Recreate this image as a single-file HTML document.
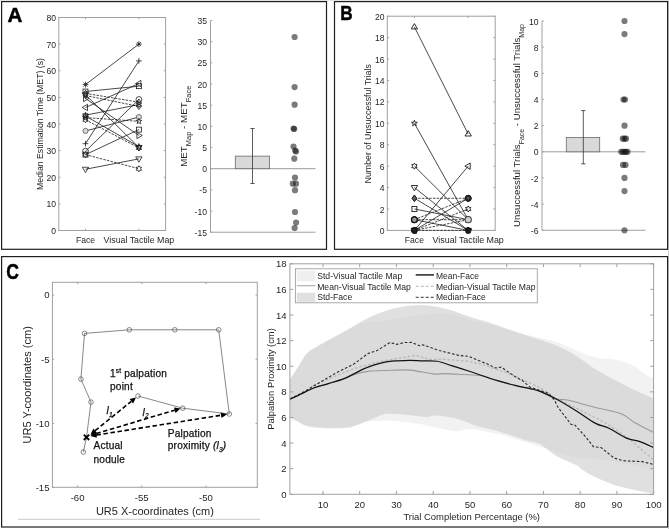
<!DOCTYPE html>
<html><head><meta charset="utf-8"><style>
html,body{margin:0;padding:0;background:#fff;}
svg{display:block;font-family:"Liberation Sans",sans-serif;filter:blur(0.3px);}
text{font-family:"Liberation Sans",sans-serif;}
</style></head><body>
<svg width="669" height="529" viewBox="0 0 669 529">
<rect width="669" height="529" fill="#fff"/>
<rect x="0" y="0" width="669" height="0.9" fill="#e2e2e2"/><rect x="668.2" y="0" width="0.8" height="529" fill="#c4c4c4"/>
<rect x="1.6" y="1.6" width="324.9" height="247.7" fill="none" stroke="#1e1e1e" stroke-width="1.2"/>
<rect x="334.5" y="1.6" width="333.1" height="247.7" fill="none" stroke="#1e1e1e" stroke-width="1.2"/>
<rect x="1.6" y="256.6" width="666" height="270.4" fill="none" stroke="#1e1e1e" stroke-width="1.2"/>
<text x="7.6" y="21.8" font-size="20.6" font-weight="bold" fill="#000" stroke="#000" stroke-width="0.5">A</text>
<text x="340.3" y="20.3" font-size="20.7" font-weight="bold" fill="#000" stroke="#000" stroke-width="0.5" transform="translate(340.2 20.5) scale(0.83 1) translate(-340.2 -20.5)">B</text>
<text x="6.4" y="279.1" font-size="22" font-weight="bold" fill="#000" stroke="#000" stroke-width="0.5" transform="translate(6.2 279.3) scale(0.8 1) translate(-6.2 -279.3)">C</text>
<rect x="58.8" y="17.5" width="106.8" height="213" fill="none" stroke="#a0a0a0" stroke-width="1"/>
<line x1="58.8" y1="230.5" x2="60.6" y2="230.5" stroke="#a0a0a0" stroke-width="1" />
<line x1="165.6" y1="230.5" x2="163.8" y2="230.5" stroke="#a0a0a0" stroke-width="1" />
<text x="56" y="234.1" font-size="8.6" text-anchor="end" fill="#262626" >0</text>
<line x1="58.8" y1="203.88" x2="60.6" y2="203.88" stroke="#a0a0a0" stroke-width="1" />
<line x1="165.6" y1="203.88" x2="163.8" y2="203.88" stroke="#a0a0a0" stroke-width="1" />
<text x="56" y="207.47" font-size="8.6" text-anchor="end" fill="#262626" >10</text>
<line x1="58.8" y1="177.25" x2="60.6" y2="177.25" stroke="#a0a0a0" stroke-width="1" />
<line x1="165.6" y1="177.25" x2="163.8" y2="177.25" stroke="#a0a0a0" stroke-width="1" />
<text x="56" y="180.85" font-size="8.6" text-anchor="end" fill="#262626" >20</text>
<line x1="58.8" y1="150.62" x2="60.6" y2="150.62" stroke="#a0a0a0" stroke-width="1" />
<line x1="165.6" y1="150.62" x2="163.8" y2="150.62" stroke="#a0a0a0" stroke-width="1" />
<text x="56" y="154.22" font-size="8.6" text-anchor="end" fill="#262626" >30</text>
<line x1="58.8" y1="124" x2="60.6" y2="124" stroke="#a0a0a0" stroke-width="1" />
<line x1="165.6" y1="124" x2="163.8" y2="124" stroke="#a0a0a0" stroke-width="1" />
<text x="56" y="127.6" font-size="8.6" text-anchor="end" fill="#262626" >40</text>
<line x1="58.8" y1="97.38" x2="60.6" y2="97.38" stroke="#a0a0a0" stroke-width="1" />
<line x1="165.6" y1="97.38" x2="163.8" y2="97.38" stroke="#a0a0a0" stroke-width="1" />
<text x="56" y="100.97" font-size="8.6" text-anchor="end" fill="#262626" >50</text>
<line x1="58.8" y1="70.75" x2="60.6" y2="70.75" stroke="#a0a0a0" stroke-width="1" />
<line x1="165.6" y1="70.75" x2="163.8" y2="70.75" stroke="#a0a0a0" stroke-width="1" />
<text x="56" y="74.35" font-size="8.6" text-anchor="end" fill="#262626" >60</text>
<line x1="58.8" y1="44.12" x2="60.6" y2="44.12" stroke="#a0a0a0" stroke-width="1" />
<line x1="165.6" y1="44.12" x2="163.8" y2="44.12" stroke="#a0a0a0" stroke-width="1" />
<text x="56" y="47.73" font-size="8.6" text-anchor="end" fill="#262626" >70</text>
<line x1="58.8" y1="17.5" x2="60.6" y2="17.5" stroke="#a0a0a0" stroke-width="1" />
<line x1="165.6" y1="17.5" x2="163.8" y2="17.5" stroke="#a0a0a0" stroke-width="1" />
<text x="56" y="21.1" font-size="8.6" text-anchor="end" fill="#262626" >80</text>
<line x1="85.5" y1="230.5" x2="85.5" y2="228.7" stroke="#a0a0a0" stroke-width="1" />
<line x1="85.5" y1="17.5" x2="85.5" y2="19.3" stroke="#a0a0a0" stroke-width="1" />
<line x1="138.9" y1="230.5" x2="138.9" y2="228.7" stroke="#a0a0a0" stroke-width="1" />
<line x1="138.9" y1="17.5" x2="138.9" y2="19.3" stroke="#a0a0a0" stroke-width="1" />
<text x="85.5" y="242.5" font-size="8.6" text-anchor="middle" fill="#262626" >Face</text>
<text x="138.9" y="242.5" font-size="8.8" text-anchor="middle" fill="#262626" >Visual Tactile Map</text>
<text transform="translate(43.4 124) rotate(-90)" font-size="8.7" text-anchor="middle" fill="#262626">Median Estimation Time (MET) (s)</text>
<line x1="85.5" y1="84.59" x2="138.9" y2="44.12" stroke="#1a1a1a" stroke-width="0.8" />
<line x1="85.5" y1="143.7" x2="138.9" y2="60.9" stroke="#1a1a1a" stroke-width="0.8" />
<line x1="85.5" y1="107.49" x2="138.9" y2="83.53" stroke="#1a1a1a" stroke-width="0.8" />
<line x1="85.5" y1="91.52" x2="138.9" y2="86.19" stroke="#1a1a1a" stroke-width="0.8" />
<line x1="85.5" y1="151.16" x2="138.9" y2="99.5" stroke="#1a1a1a" stroke-width="0.8" />
<line x1="85.5" y1="93.38" x2="138.9" y2="102.17" stroke="#1a1a1a" stroke-width="0.8" stroke-dasharray="2.5 1.2"/>
<line x1="85.5" y1="115.21" x2="138.9" y2="104.56" stroke="#1a1a1a" stroke-width="0.8" />
<line x1="85.5" y1="95.51" x2="138.9" y2="106.43" stroke="#1a1a1a" stroke-width="0.8" stroke-dasharray="2.5 1.2"/>
<line x1="85.5" y1="130.92" x2="138.9" y2="117.08" stroke="#1a1a1a" stroke-width="0.8" />
<line x1="85.5" y1="117.61" x2="138.9" y2="121.34" stroke="#1a1a1a" stroke-width="0.8" stroke-dasharray="2.5 1.2"/>
<line x1="85.5" y1="154.62" x2="138.9" y2="129.59" stroke="#1a1a1a" stroke-width="0.8" />
<line x1="85.5" y1="98.44" x2="138.9" y2="135.45" stroke="#1a1a1a" stroke-width="0.8" />
<line x1="85.5" y1="116.01" x2="138.9" y2="146.63" stroke="#1a1a1a" stroke-width="0.8" />
<line x1="85.5" y1="119.74" x2="138.9" y2="147.96" stroke="#1a1a1a" stroke-width="0.8" stroke-dasharray="2.5 1.2"/>
<line x1="85.5" y1="169.26" x2="138.9" y2="158.88" stroke="#1a1a1a" stroke-width="0.8" />
<line x1="85.5" y1="154.62" x2="138.9" y2="168.73" stroke="#1a1a1a" stroke-width="0.8" stroke-dasharray="2.5 1.2"/>
<line x1="85.5" y1="94.71" x2="138.9" y2="147.43" stroke="#1a1a1a" stroke-width="0.8" />
<path d="M82.6 84.59L88.4 84.59M83.45 82.54L87.55 86.65M85.5 81.69L85.5 87.5M87.55 82.54L83.45 86.65" stroke="#1a1a1a" stroke-width="0.8"/>
<path d="M136 44.12L141.8 44.12M136.85 42.07L140.95 46.18M138.9 41.23L138.9 47.02M140.95 42.07L136.85 46.18" stroke="#1a1a1a" stroke-width="0.8"/>
<path d="M82.6 143.7h5.8M85.5 140.8v5.8" stroke="#1a1a1a" stroke-width="0.8"/>
<path d="M136 60.9h5.8M138.9 58v5.8" stroke="#1a1a1a" stroke-width="0.8"/>
<polygon points="82.17,107.49 87.5,104.32 87.5,110.66" fill="none" stroke="#1a1a1a" stroke-width="0.8"/>
<polygon points="135.56,83.53 140.9,80.36 140.9,86.7" fill="none" stroke="#1a1a1a" stroke-width="0.8"/>
<rect x="83.03" y="89.05" width="4.93" height="4.93" fill="none" stroke="#1a1a1a" stroke-width="0.8"/>
<rect x="136.44" y="83.73" width="4.93" height="4.93" fill="none" stroke="#1a1a1a" stroke-width="0.8"/>
<circle cx="85.5" cy="151.16" r="2.9" fill="none" stroke="#1a1a1a" stroke-width="0.8"/>
<circle cx="138.9" cy="99.5" r="2.9" fill="none" stroke="#1a1a1a" stroke-width="0.8"/>
<polygon points="85.5,90.19 87.73,93.38 85.5,96.57 83.27,93.38" fill="none" stroke="#1a1a1a" stroke-width="0.8"/>
<polygon points="138.9,98.98 141.13,102.17 138.9,105.36 136.67,102.17" fill="none" stroke="#1a1a1a" stroke-width="0.8"/>
<polygon points="85.5,112.17 86.38,113.68 88.14,113.69 87.27,115.21 88.14,116.74 86.38,116.74 85.5,118.26 84.62,116.74 82.86,116.74 83.73,115.21 82.86,113.69 84.62,113.68" fill="none" stroke="#1a1a1a" stroke-width="0.8"/>
<polygon points="138.9,101.52 139.78,103.03 141.54,103.04 140.67,104.56 141.54,106.09 139.78,106.09 138.9,107.61 138.02,106.09 136.26,106.09 137.13,104.56 136.26,103.04 138.02,103.03" fill="none" stroke="#1a1a1a" stroke-width="0.8"/>
<polygon points="85.5,92.32 87.73,95.51 85.5,98.7 83.27,95.51" fill="none" stroke="#1a1a1a" stroke-width="0.8"/>
<polygon points="138.9,103.24 141.13,106.43 138.9,109.62 136.67,106.43" fill="none" stroke="#1a1a1a" stroke-width="0.8"/>
<circle cx="85.5" cy="130.92" r="2.6" fill="#d8d8d8" stroke="#444" stroke-width="0.7"/>
<circle cx="138.9" cy="117.08" r="2.6" fill="#d8d8d8" stroke="#444" stroke-width="0.7"/>
<polygon points="85.5,114.57 86.25,116.58 88.4,116.67 86.72,118.01 87.29,120.07 85.5,118.89 83.71,120.07 84.28,118.01 82.6,116.67 84.75,116.58" fill="none" stroke="#1a1a1a" stroke-width="0.8"/>
<polygon points="138.9,118.29 139.65,120.3 141.8,120.4 140.12,121.73 140.69,123.8 138.9,122.62 137.11,123.8 137.68,121.73 136,120.4 138.15,120.3" fill="none" stroke="#1a1a1a" stroke-width="0.8"/>
<rect x="83.03" y="152.15" width="4.93" height="4.93" fill="none" stroke="#1a1a1a" stroke-width="0.8"/>
<rect x="136.44" y="127.13" width="4.93" height="4.93" fill="none" stroke="#1a1a1a" stroke-width="0.8"/>
<polygon points="88.83,98.44 83.5,95.27 83.5,101.61" fill="none" stroke="#1a1a1a" stroke-width="0.8"/>
<polygon points="142.24,135.45 136.9,132.28 136.9,138.62" fill="none" stroke="#1a1a1a" stroke-width="0.8"/>
<polygon points="85.5,112.97 86.25,114.98 88.4,115.07 86.72,116.41 87.29,118.48 85.5,117.29 83.71,118.48 84.28,116.41 82.6,115.07 84.75,114.98" fill="none" stroke="#1a1a1a" stroke-width="0.8"/>
<polygon points="138.9,143.59 139.65,145.6 141.8,145.69 140.12,147.03 140.69,149.09 138.9,147.91 137.11,149.09 137.68,147.03 136,145.69 138.15,145.6" fill="none" stroke="#1a1a1a" stroke-width="0.8"/>
<polygon points="85.5,116.69 86.38,118.21 88.14,118.22 87.27,119.74 88.14,121.26 86.38,121.27 85.5,122.78 84.62,121.27 82.86,121.26 83.73,119.74 82.86,118.22 84.62,118.21" fill="none" stroke="#1a1a1a" stroke-width="0.8"/>
<polygon points="138.9,144.92 139.78,146.43 141.54,146.44 140.67,147.96 141.54,149.49 139.78,149.49 138.9,151.01 138.02,149.49 136.26,149.49 137.13,147.96 136.26,146.44 138.02,146.43" fill="none" stroke="#1a1a1a" stroke-width="0.8"/>
<polygon points="85.5,172.6 88.67,167.26 82.33,167.26" fill="none" stroke="#1a1a1a" stroke-width="0.8"/>
<polygon points="138.9,162.21 142.07,156.88 135.73,156.88" fill="none" stroke="#1a1a1a" stroke-width="0.8"/>
<polygon points="85.5,151.57 86.38,153.09 88.14,153.1 87.27,154.62 88.14,156.14 86.38,156.15 85.5,157.66 84.62,156.15 82.86,156.14 83.73,154.62 82.86,153.1 84.62,153.09" fill="none" stroke="#1a1a1a" stroke-width="0.8"/>
<polygon points="138.9,165.69 139.78,167.2 141.54,167.21 140.67,168.73 141.54,170.25 139.78,170.26 138.9,171.78 138.02,170.26 136.26,170.25 137.13,168.73 136.26,167.21 138.02,167.2" fill="none" stroke="#1a1a1a" stroke-width="0.8"/>
<polygon points="85.5,98.05 88.67,92.71 82.33,92.71" fill="none" stroke="#1a1a1a" stroke-width="0.8"/>
<polygon points="138.9,150.77 142.07,145.43 135.73,145.43" fill="none" stroke="#1a1a1a" stroke-width="0.8"/>
<line x1="210.5" y1="20.47" x2="210.5" y2="232.22" stroke="#a0a0a0" stroke-width="1" />
<line x1="210.5" y1="232.22" x2="315.5" y2="232.22" stroke="#a0a0a0" stroke-width="1" />
<line x1="210.5" y1="168.7" x2="315.5" y2="168.7" stroke="#9a9a9a" stroke-width="1" />
<line x1="210.5" y1="232.22" x2="212.3" y2="232.22" stroke="#a0a0a0" stroke-width="1" />
<text x="207" y="235.82" font-size="8.6" text-anchor="end" fill="#262626" >-15</text>
<line x1="210.5" y1="211.05" x2="212.3" y2="211.05" stroke="#a0a0a0" stroke-width="1" />
<text x="207" y="214.65" font-size="8.6" text-anchor="end" fill="#262626" >-10</text>
<line x1="210.5" y1="189.88" x2="212.3" y2="189.88" stroke="#a0a0a0" stroke-width="1" />
<text x="207" y="193.47" font-size="8.6" text-anchor="end" fill="#262626" >-5</text>
<line x1="210.5" y1="168.7" x2="212.3" y2="168.7" stroke="#a0a0a0" stroke-width="1" />
<text x="207" y="172.3" font-size="8.6" text-anchor="end" fill="#262626" >0</text>
<line x1="210.5" y1="147.52" x2="212.3" y2="147.52" stroke="#a0a0a0" stroke-width="1" />
<text x="207" y="151.12" font-size="8.6" text-anchor="end" fill="#262626" >5</text>
<line x1="210.5" y1="126.35" x2="212.3" y2="126.35" stroke="#a0a0a0" stroke-width="1" />
<text x="207" y="129.95" font-size="8.6" text-anchor="end" fill="#262626" >10</text>
<line x1="210.5" y1="105.17" x2="212.3" y2="105.17" stroke="#a0a0a0" stroke-width="1" />
<text x="207" y="108.77" font-size="8.6" text-anchor="end" fill="#262626" >15</text>
<line x1="210.5" y1="84" x2="212.3" y2="84" stroke="#a0a0a0" stroke-width="1" />
<text x="207" y="87.6" font-size="8.6" text-anchor="end" fill="#262626" >20</text>
<line x1="210.5" y1="62.82" x2="212.3" y2="62.82" stroke="#a0a0a0" stroke-width="1" />
<text x="207" y="66.42" font-size="8.6" text-anchor="end" fill="#262626" >25</text>
<line x1="210.5" y1="41.65" x2="212.3" y2="41.65" stroke="#a0a0a0" stroke-width="1" />
<text x="207" y="45.25" font-size="8.6" text-anchor="end" fill="#262626" >30</text>
<line x1="210.5" y1="20.47" x2="212.3" y2="20.47" stroke="#a0a0a0" stroke-width="1" />
<text x="207" y="24.07" font-size="8.6" text-anchor="end" fill="#262626" >35</text>
<rect x="235.3" y="156.12" width="34.3" height="12.58" fill="#d9d9d9" stroke="#6a6a6a" stroke-width="0.8"/>
<line x1="252.5" y1="128.47" x2="252.5" y2="183.52" stroke="#333" stroke-width="0.8" />
<line x1="250.3" y1="128.47" x2="254.7" y2="128.47" stroke="#333" stroke-width="0.8" />
<line x1="250.3" y1="183.52" x2="254.7" y2="183.52" stroke="#333" stroke-width="0.8" />
<circle cx="294.6" cy="37" r="3.1" fill="rgba(20,20,20,0.56)"/>
<circle cx="294.6" cy="87.1" r="3.1" fill="rgba(20,20,20,0.56)"/>
<circle cx="294.6" cy="104.7" r="3.1" fill="rgba(20,20,20,0.56)"/>
<circle cx="293.6" cy="128.5" r="3.1" fill="rgba(20,20,20,0.56)"/>
<circle cx="294.2" cy="129" r="3.1" fill="rgba(20,20,20,0.56)"/>
<circle cx="293.5" cy="146.5" r="3.1" fill="rgba(20,20,20,0.56)"/>
<circle cx="295.2" cy="150.5" r="3.1" fill="rgba(20,20,20,0.56)"/>
<circle cx="296" cy="151.5" r="3.1" fill="rgba(20,20,20,0.56)"/>
<circle cx="294.3" cy="158.7" r="3.1" fill="rgba(20,20,20,0.56)"/>
<circle cx="295" cy="177.6" r="3.1" fill="rgba(20,20,20,0.56)"/>
<circle cx="292.8" cy="183.7" r="3.1" fill="rgba(20,20,20,0.56)"/>
<circle cx="296" cy="183.7" r="3.1" fill="rgba(20,20,20,0.56)"/>
<circle cx="295" cy="190.2" r="3.1" fill="rgba(20,20,20,0.56)"/>
<circle cx="295" cy="212" r="3.1" fill="rgba(20,20,20,0.56)"/>
<circle cx="296.1" cy="222.6" r="3.1" fill="rgba(20,20,20,0.56)"/>
<circle cx="294.6" cy="228" r="3.1" fill="rgba(20,20,20,0.56)"/>
<text transform="translate(186.9 166.8) rotate(-90)" font-size="9.75" fill="#262626">MET<tspan font-size="7.5" dy="3.7">Map</tspan><tspan dy="-3.7"> - MET</tspan><tspan font-size="7.5" dy="3.7">Face</tspan></text>
<rect x="387.3" y="16.2" width="107.9" height="214.2" fill="none" stroke="#a0a0a0" stroke-width="1"/>
<line x1="387.3" y1="230.4" x2="389.1" y2="230.4" stroke="#a0a0a0" stroke-width="1" />
<line x1="495.2" y1="230.4" x2="493.4" y2="230.4" stroke="#a0a0a0" stroke-width="1" />
<text x="384.6" y="234" font-size="8.6" text-anchor="end" fill="#262626" >0</text>
<line x1="387.3" y1="208.98" x2="389.1" y2="208.98" stroke="#a0a0a0" stroke-width="1" />
<line x1="495.2" y1="208.98" x2="493.4" y2="208.98" stroke="#a0a0a0" stroke-width="1" />
<text x="384.6" y="212.58" font-size="8.6" text-anchor="end" fill="#262626" >2</text>
<line x1="387.3" y1="187.56" x2="389.1" y2="187.56" stroke="#a0a0a0" stroke-width="1" />
<line x1="495.2" y1="187.56" x2="493.4" y2="187.56" stroke="#a0a0a0" stroke-width="1" />
<text x="384.6" y="191.16" font-size="8.6" text-anchor="end" fill="#262626" >4</text>
<line x1="387.3" y1="166.14" x2="389.1" y2="166.14" stroke="#a0a0a0" stroke-width="1" />
<line x1="495.2" y1="166.14" x2="493.4" y2="166.14" stroke="#a0a0a0" stroke-width="1" />
<text x="384.6" y="169.74" font-size="8.6" text-anchor="end" fill="#262626" >6</text>
<line x1="387.3" y1="144.72" x2="389.1" y2="144.72" stroke="#a0a0a0" stroke-width="1" />
<line x1="495.2" y1="144.72" x2="493.4" y2="144.72" stroke="#a0a0a0" stroke-width="1" />
<text x="384.6" y="148.32" font-size="8.6" text-anchor="end" fill="#262626" >8</text>
<line x1="387.3" y1="123.3" x2="389.1" y2="123.3" stroke="#a0a0a0" stroke-width="1" />
<line x1="495.2" y1="123.3" x2="493.4" y2="123.3" stroke="#a0a0a0" stroke-width="1" />
<text x="384.6" y="126.9" font-size="8.6" text-anchor="end" fill="#262626" >10</text>
<line x1="387.3" y1="101.88" x2="389.1" y2="101.88" stroke="#a0a0a0" stroke-width="1" />
<line x1="495.2" y1="101.88" x2="493.4" y2="101.88" stroke="#a0a0a0" stroke-width="1" />
<text x="384.6" y="105.48" font-size="8.6" text-anchor="end" fill="#262626" >12</text>
<line x1="387.3" y1="80.46" x2="389.1" y2="80.46" stroke="#a0a0a0" stroke-width="1" />
<line x1="495.2" y1="80.46" x2="493.4" y2="80.46" stroke="#a0a0a0" stroke-width="1" />
<text x="384.6" y="84.06" font-size="8.6" text-anchor="end" fill="#262626" >14</text>
<line x1="387.3" y1="59.04" x2="389.1" y2="59.04" stroke="#a0a0a0" stroke-width="1" />
<line x1="495.2" y1="59.04" x2="493.4" y2="59.04" stroke="#a0a0a0" stroke-width="1" />
<text x="384.6" y="62.64" font-size="8.6" text-anchor="end" fill="#262626" >16</text>
<line x1="387.3" y1="37.62" x2="389.1" y2="37.62" stroke="#a0a0a0" stroke-width="1" />
<line x1="495.2" y1="37.62" x2="493.4" y2="37.62" stroke="#a0a0a0" stroke-width="1" />
<text x="384.6" y="41.22" font-size="8.6" text-anchor="end" fill="#262626" >18</text>
<line x1="387.3" y1="16.2" x2="389.1" y2="16.2" stroke="#a0a0a0" stroke-width="1" />
<line x1="495.2" y1="16.2" x2="493.4" y2="16.2" stroke="#a0a0a0" stroke-width="1" />
<text x="384.6" y="19.8" font-size="8.6" text-anchor="end" fill="#262626" >20</text>
<line x1="414.4" y1="230.4" x2="414.4" y2="228.6" stroke="#a0a0a0" stroke-width="1" />
<line x1="414.4" y1="16.2" x2="414.4" y2="18" stroke="#a0a0a0" stroke-width="1" />
<line x1="468.2" y1="230.4" x2="468.2" y2="228.6" stroke="#a0a0a0" stroke-width="1" />
<line x1="468.2" y1="16.2" x2="468.2" y2="18" stroke="#a0a0a0" stroke-width="1" />
<text x="414.4" y="243.2" font-size="8.6" text-anchor="middle" fill="#262626" >Face</text>
<text x="468.2" y="243.2" font-size="8.9" text-anchor="middle" fill="#262626" >Visual Tactile Map</text>
<text transform="translate(371.4 123.8) rotate(-90)" font-size="8.8" text-anchor="middle" fill="#262626">Number of Unsuccessful Trials</text>
<line x1="414.4" y1="26.91" x2="468.2" y2="134.01" stroke="#1a1a1a" stroke-width="0.8" />
<line x1="414.4" y1="123.3" x2="468.2" y2="219.69" stroke="#1a1a1a" stroke-width="0.8" />
<line x1="414.4" y1="166.14" x2="468.2" y2="219.69" stroke="#1a1a1a" stroke-width="0.8" />
<line x1="414.4" y1="187.56" x2="468.2" y2="230.4" stroke="#1a1a1a" stroke-width="0.8" />
<line x1="414.4" y1="198.27" x2="468.2" y2="198.27" stroke="#1a1a1a" stroke-width="0.8" stroke-dasharray="2.5 1.2"/>
<line x1="414.4" y1="198.27" x2="468.2" y2="230.4" stroke="#1a1a1a" stroke-width="0.8" />
<line x1="414.4" y1="208.98" x2="468.2" y2="219.69" stroke="#1a1a1a" stroke-width="0.8" />
<line x1="414.4" y1="219.69" x2="468.2" y2="198.27" stroke="#1a1a1a" stroke-width="0.8" stroke-dasharray="2.5 1.2"/>
<line x1="414.4" y1="219.69" x2="468.2" y2="219.69" stroke="#1a1a1a" stroke-width="0.8" stroke-dasharray="2.5 1.2"/>
<line x1="414.4" y1="219.69" x2="468.2" y2="230.4" stroke="#1a1a1a" stroke-width="0.8" />
<line x1="414.4" y1="230.4" x2="468.2" y2="166.14" stroke="#1a1a1a" stroke-width="0.8" />
<line x1="414.4" y1="230.4" x2="468.2" y2="198.27" stroke="#1a1a1a" stroke-width="0.8" />
<line x1="414.4" y1="230.4" x2="468.2" y2="208.98" stroke="#1a1a1a" stroke-width="0.8" stroke-dasharray="2.5 1.2"/>
<line x1="414.4" y1="230.4" x2="468.2" y2="219.69" stroke="#1a1a1a" stroke-width="0.8" stroke-dasharray="2.5 1.2"/>
<line x1="414.4" y1="230.4" x2="468.2" y2="230.4" stroke="#1a1a1a" stroke-width="0.8" stroke-dasharray="2.5 1.2"/>
<polygon points="414.4,23.57 417.57,28.91 411.23,28.91" fill="none" stroke="#1a1a1a" stroke-width="0.9"/>
<polygon points="468.2,130.67 471.37,136.01 465.03,136.01" fill="none" stroke="#1a1a1a" stroke-width="0.9"/>
<polygon points="414.4,120.25 415.15,122.27 417.3,122.36 415.62,123.7 416.19,125.76 414.4,124.58 412.61,125.76 413.18,123.7 411.5,122.36 413.65,122.27" fill="none" stroke="#1a1a1a" stroke-width="0.9"/>
<polygon points="468.2,216.65 468.95,218.66 471.1,218.75 469.42,220.09 469.99,222.15 468.2,220.97 466.41,222.15 466.98,220.09 465.3,218.75 467.45,218.66" fill="none" stroke="#1a1a1a" stroke-width="0.9"/>
<polygon points="414.4,163.09 415.28,164.61 417.04,164.62 416.17,166.14 417.04,167.66 415.28,167.67 414.4,169.18 413.52,167.67 411.76,167.66 412.63,166.14 411.76,164.62 413.52,164.61" fill="none" stroke="#1a1a1a" stroke-width="0.9"/>
<polygon points="468.2,216.65 469.08,218.16 470.84,218.17 469.97,219.69 470.84,221.21 469.08,221.22 468.2,222.73 467.32,221.22 465.56,221.21 466.43,219.69 465.56,218.17 467.32,218.16" fill="none" stroke="#1a1a1a" stroke-width="0.9"/>
<polygon points="414.4,190.9 417.57,185.56 411.23,185.56" fill="none" stroke="#1a1a1a" stroke-width="0.9"/>
<polygon points="468.2,233.74 471.37,228.4 465.03,228.4" fill="none" stroke="#1a1a1a" stroke-width="0.9"/>
<polygon points="414.4,195.08 416.63,198.27 414.4,201.46 412.17,198.27" fill="#666" stroke="#1a1a1a" stroke-width="0.9"/>
<polygon points="468.2,195.08 470.43,198.27 468.2,201.46 465.97,198.27" fill="none" stroke="#1a1a1a" stroke-width="0.9"/>
<polygon points="414.4,195.08 416.63,198.27 414.4,201.46 412.17,198.27" fill="#666" stroke="#1a1a1a" stroke-width="0.9"/>
<polygon points="468.2,227.21 470.43,230.4 468.2,233.59 465.97,230.4" fill="none" stroke="#1a1a1a" stroke-width="0.9"/>
<rect x="411.94" y="206.52" width="4.93" height="4.93" fill="none" stroke="#1a1a1a" stroke-width="0.9"/>
<rect x="465.74" y="217.22" width="4.93" height="4.93" fill="none" stroke="#1a1a1a" stroke-width="0.9"/>
<circle cx="414.4" cy="219.69" r="2.9" fill="none" stroke="#1a1a1a" stroke-width="0.9"/>
<circle cx="468.2" cy="198.27" r="2.9" fill="none" stroke="#1a1a1a" stroke-width="0.9"/>
<circle cx="414.4" cy="219.69" r="2.9" fill="none" stroke="#1a1a1a" stroke-width="0.9"/>
<circle cx="468.2" cy="219.69" r="2.9" fill="none" stroke="#1a1a1a" stroke-width="0.9"/>
<circle cx="414.4" cy="219.69" r="2.9" fill="none" stroke="#1a1a1a" stroke-width="0.9"/>
<circle cx="468.2" cy="230.4" r="2.9" fill="none" stroke="#1a1a1a" stroke-width="0.9"/>
<polygon points="411.06,230.4 416.4,227.23 416.4,233.57" fill="none" stroke="#1a1a1a" stroke-width="0.9"/>
<polygon points="464.87,166.14 470.2,162.97 470.2,169.31" fill="none" stroke="#1a1a1a" stroke-width="0.9"/>
<circle cx="414.4" cy="230.4" r="2.9" fill="none" stroke="#1a1a1a" stroke-width="0.9"/>
<circle cx="468.2" cy="198.27" r="2.9" fill="none" stroke="#1a1a1a" stroke-width="0.9"/>
<polygon points="414.4,227.36 415.28,228.87 417.04,228.88 416.17,230.4 417.04,231.92 415.28,231.93 414.4,233.44 413.52,231.93 411.76,231.92 412.63,230.4 411.76,228.88 413.52,228.87" fill="none" stroke="#1a1a1a" stroke-width="0.9"/>
<polygon points="468.2,205.94 469.08,207.45 470.84,207.46 469.97,208.98 470.84,210.5 469.08,210.51 468.2,212.03 467.32,210.51 465.56,210.5 466.43,208.98 465.56,207.46 467.32,207.45" fill="none" stroke="#1a1a1a" stroke-width="0.9"/>
<circle cx="414.4" cy="230.4" r="2.9" fill="none" stroke="#1a1a1a" stroke-width="0.9"/>
<circle cx="468.2" cy="219.69" r="3.2" fill="#d0d0d0" stroke="#333" stroke-width="0.9"/>
<polygon points="414.4,227.36 415.15,229.37 417.3,229.46 415.62,230.8 416.19,232.86 414.4,231.68 412.61,232.86 413.18,230.8 411.5,229.46 413.65,229.37" fill="none" stroke="#1a1a1a" stroke-width="0.9"/>
<polygon points="468.2,227.36 468.95,229.37 471.1,229.46 469.42,230.8 469.99,232.86 468.2,231.68 466.41,232.86 466.98,230.8 465.3,229.46 467.45,229.37" fill="none" stroke="#1a1a1a" stroke-width="0.9"/>
<polygon points="414.4,233.85 417.68,228.33 411.12,228.33" fill="#222" stroke="#111" stroke-width="1"/>
<polygon points="468.2,227.04 469.03,229.26 471.4,229.36 469.54,230.84 470.17,233.12 468.2,231.81 466.23,233.12 466.86,230.84 465,229.36 467.37,229.26" fill="#222" stroke="#111" stroke-width="1"/>
<circle cx="468.2" cy="198.27" r="2.9" fill="#666" stroke="#111" stroke-width="1"/>
<polygon points="468.2,195.96 468.87,197.11 470.2,197.12 469.54,198.27 470.2,199.43 468.87,199.43 468.2,200.58 467.53,199.43 466.2,199.43 466.86,198.27 466.2,197.12 467.53,197.11" fill="none" stroke="#111" stroke-width="0.8"/>
<circle cx="414.4" cy="219.69" r="2.9" fill="#999" stroke="#111" stroke-width="1.3"/>
<line x1="542" y1="21" x2="542" y2="230.28" stroke="#a0a0a0" stroke-width="1" />
<line x1="542" y1="230.28" x2="645.5" y2="230.28" stroke="#a0a0a0" stroke-width="1" />
<line x1="542" y1="151.8" x2="645.5" y2="151.8" stroke="#9a9a9a" stroke-width="1" />
<line x1="542" y1="230.28" x2="543.8" y2="230.28" stroke="#a0a0a0" stroke-width="1" />
<text x="538.5" y="233.88" font-size="8.6" text-anchor="end" fill="#262626" >-6</text>
<line x1="542" y1="204.12" x2="543.8" y2="204.12" stroke="#a0a0a0" stroke-width="1" />
<text x="538.5" y="207.72" font-size="8.6" text-anchor="end" fill="#262626" >-4</text>
<line x1="542" y1="177.96" x2="543.8" y2="177.96" stroke="#a0a0a0" stroke-width="1" />
<text x="538.5" y="181.56" font-size="8.6" text-anchor="end" fill="#262626" >-2</text>
<line x1="542" y1="151.8" x2="543.8" y2="151.8" stroke="#a0a0a0" stroke-width="1" />
<text x="538.5" y="155.4" font-size="8.6" text-anchor="end" fill="#262626" >0</text>
<line x1="542" y1="125.64" x2="543.8" y2="125.64" stroke="#a0a0a0" stroke-width="1" />
<text x="538.5" y="129.24" font-size="8.6" text-anchor="end" fill="#262626" >2</text>
<line x1="542" y1="99.48" x2="543.8" y2="99.48" stroke="#a0a0a0" stroke-width="1" />
<text x="538.5" y="103.08" font-size="8.6" text-anchor="end" fill="#262626" >4</text>
<line x1="542" y1="73.32" x2="543.8" y2="73.32" stroke="#a0a0a0" stroke-width="1" />
<text x="538.5" y="76.92" font-size="8.6" text-anchor="end" fill="#262626" >6</text>
<line x1="542" y1="47.16" x2="543.8" y2="47.16" stroke="#a0a0a0" stroke-width="1" />
<text x="538.5" y="50.76" font-size="8.6" text-anchor="end" fill="#262626" >8</text>
<line x1="542" y1="21" x2="543.8" y2="21" stroke="#a0a0a0" stroke-width="1" />
<text x="538.5" y="24.6" font-size="8.6" text-anchor="end" fill="#262626" >10</text>
<rect x="566.3" y="137.41" width="33.4" height="14.39" fill="#d9d9d9" stroke="#6a6a6a" stroke-width="0.8"/>
<line x1="583.3" y1="110.6" x2="583.3" y2="163.83" stroke="#333" stroke-width="0.8" />
<line x1="581.1" y1="110.6" x2="585.5" y2="110.6" stroke="#333" stroke-width="0.8" />
<line x1="581.1" y1="163.83" x2="585.5" y2="163.83" stroke="#333" stroke-width="0.8" />
<circle cx="624.5" cy="21" r="3.1" fill="rgba(20,20,20,0.56)"/>
<circle cx="624.5" cy="34.08" r="3.1" fill="rgba(20,20,20,0.56)"/>
<circle cx="623.5" cy="99.48" r="3.1" fill="rgba(20,20,20,0.56)"/>
<circle cx="625" cy="99.48" r="3.1" fill="rgba(20,20,20,0.56)"/>
<circle cx="624.5" cy="125.64" r="3.1" fill="rgba(20,20,20,0.56)"/>
<circle cx="622.8" cy="138.72" r="3.1" fill="rgba(20,20,20,0.56)"/>
<circle cx="624.5" cy="138.72" r="3.1" fill="rgba(20,20,20,0.56)"/>
<circle cx="626" cy="138.72" r="3.1" fill="rgba(20,20,20,0.56)"/>
<circle cx="621.2" cy="151.8" r="3.1" fill="rgba(20,20,20,0.56)"/>
<circle cx="623" cy="151.8" r="3.1" fill="rgba(20,20,20,0.56)"/>
<circle cx="624.5" cy="151.8" r="3.1" fill="rgba(20,20,20,0.56)"/>
<circle cx="626" cy="151.8" r="3.1" fill="rgba(20,20,20,0.56)"/>
<circle cx="627.5" cy="151.8" r="3.1" fill="rgba(20,20,20,0.56)"/>
<circle cx="623" cy="164.88" r="3.1" fill="rgba(20,20,20,0.56)"/>
<circle cx="625.5" cy="164.88" r="3.1" fill="rgba(20,20,20,0.56)"/>
<circle cx="624.5" cy="177.96" r="3.1" fill="rgba(20,20,20,0.56)"/>
<circle cx="624.5" cy="191.04" r="3.1" fill="rgba(20,20,20,0.56)"/>
<circle cx="624.5" cy="230.28" r="3.1" fill="rgba(20,20,20,0.56)"/>
<text transform="translate(520 227) rotate(-90)" font-size="9.6" fill="#262626">Unsuccessful Trials<tspan font-size="7" dy="3.8">Face</tspan><tspan dy="-3.8"> - Unsuccessful Trials</tspan><tspan font-size="7" dy="3.8">Map</tspan></text>
<rect x="52.4" y="282.3" width="204.9" height="205" fill="none" stroke="#a0a0a0" stroke-width="1"/>
<line x1="52.4" y1="295" x2="54.2" y2="295" stroke="#a0a0a0" stroke-width="1" />
<line x1="257.3" y1="295" x2="255.5" y2="295" stroke="#a0a0a0" stroke-width="1" />
<text x="49.5" y="298.4" font-size="9.6" text-anchor="end" fill="#262626" >0</text>
<line x1="52.4" y1="359.15" x2="54.2" y2="359.15" stroke="#a0a0a0" stroke-width="1" />
<line x1="257.3" y1="359.15" x2="255.5" y2="359.15" stroke="#a0a0a0" stroke-width="1" />
<text x="49.5" y="362.55" font-size="9.6" text-anchor="end" fill="#262626" >-5</text>
<line x1="52.4" y1="423.3" x2="54.2" y2="423.3" stroke="#a0a0a0" stroke-width="1" />
<line x1="257.3" y1="423.3" x2="255.5" y2="423.3" stroke="#a0a0a0" stroke-width="1" />
<text x="49.5" y="426.7" font-size="9.6" text-anchor="end" fill="#262626" >-10</text>
<line x1="52.4" y1="487.45" x2="54.2" y2="487.45" stroke="#a0a0a0" stroke-width="1" />
<line x1="257.3" y1="487.45" x2="255.5" y2="487.45" stroke="#a0a0a0" stroke-width="1" />
<text x="49.5" y="490.85" font-size="9.6" text-anchor="end" fill="#262626" >-15</text>
<line x1="77.6" y1="487.3" x2="77.6" y2="485.5" stroke="#a0a0a0" stroke-width="1" />
<line x1="77.6" y1="282.3" x2="77.6" y2="284.1" stroke="#a0a0a0" stroke-width="1" />
<text x="77.6" y="500.8" font-size="9.6" text-anchor="middle" fill="#262626" >-60</text>
<line x1="141.75" y1="487.3" x2="141.75" y2="485.5" stroke="#a0a0a0" stroke-width="1" />
<line x1="141.75" y1="282.3" x2="141.75" y2="284.1" stroke="#a0a0a0" stroke-width="1" />
<text x="141.75" y="500.8" font-size="9.6" text-anchor="middle" fill="#262626" >-55</text>
<line x1="205.9" y1="487.3" x2="205.9" y2="485.5" stroke="#a0a0a0" stroke-width="1" />
<line x1="205.9" y1="282.3" x2="205.9" y2="284.1" stroke="#a0a0a0" stroke-width="1" />
<text x="205.9" y="500.8" font-size="9.6" text-anchor="middle" fill="#262626" >-50</text>
<text x="154.9" y="514.8" font-size="11.0" text-anchor="middle" fill="#262626" >UR5 X-coordinates (cm)</text>
<text transform="translate(30.8 384.8) rotate(-90)" font-size="11.05" text-anchor="middle" fill="#262626">UR5 Y-coordinates (cm)</text>
<line x1="18" y1="519.3" x2="260" y2="519.3" stroke="#c8c8c8" stroke-width="1" />
<polyline points="138,396 182.7,408.2 229.3,414 218.7,329.8 174.8,329.8 129.3,329.8 84.5,333.4 80.9,379.1 91,402.1 86.5,437.3 83.3,452" fill="none" stroke="#555" stroke-width="0.7"/>
<circle cx="138" cy="396" r="2.3" fill="none" stroke="#555" stroke-width="0.7"/>
<circle cx="182.7" cy="408.2" r="2.3" fill="none" stroke="#555" stroke-width="0.7"/>
<circle cx="229.3" cy="414" r="2.3" fill="none" stroke="#555" stroke-width="0.7"/>
<circle cx="218.7" cy="329.8" r="2.3" fill="none" stroke="#555" stroke-width="0.7"/>
<circle cx="174.8" cy="329.8" r="2.3" fill="none" stroke="#555" stroke-width="0.7"/>
<circle cx="129.3" cy="329.8" r="2.3" fill="none" stroke="#555" stroke-width="0.7"/>
<circle cx="84.5" cy="333.4" r="2.3" fill="none" stroke="#555" stroke-width="0.7"/>
<circle cx="80.9" cy="379.1" r="2.3" fill="none" stroke="#555" stroke-width="0.7"/>
<circle cx="91" cy="402.1" r="2.3" fill="none" stroke="#555" stroke-width="0.7"/>
<circle cx="83.3" cy="452" r="2.3" fill="none" stroke="#555" stroke-width="0.7"/>
<path d="M83.8 434.6L89.2 440M89.2 434.6L83.8 440" stroke="#000" stroke-width="1.8"/>
<line x1="95.16" y1="430.71" x2="131.34" y2="401.29" stroke="#000" stroke-width="1.6" stroke-dasharray="4.5 2.6"/>
<polygon points="136,397.5 133.11,403.46 129.58,399.11" fill="#000"/>
<polygon points="90.5,434.5 96.92,432.89 93.39,428.54" fill="#000"/>
<line x1="96.25" y1="433.49" x2="174.75" y2="410.21" stroke="#000" stroke-width="1.6" stroke-dasharray="4.5 2.6"/>
<polygon points="180.5,408.5 175.54,412.89 173.95,407.52" fill="#000"/>
<polygon points="90.5,435.2 97.05,436.18 95.46,430.81" fill="#000"/>
<line x1="96.43" y1="435.06" x2="221.07" y2="415.24" stroke="#000" stroke-width="1.6" stroke-dasharray="4.5 2.6"/>
<polygon points="227,414.3 221.51,418.01 220.63,412.48" fill="#000"/>
<polygon points="90.5,436 96.87,437.82 95.99,432.29" fill="#000"/>
<text x="110" y="376.5" font-size="10.1" fill="#111" stroke="#111" stroke-width="0.25" letter-spacing="0.2">1<tspan font-size="6.5" dy="-3.6">st</tspan><tspan dy="3.6"> palpation</tspan></text>
<text x="110" y="390" font-size="10.1" fill="#111" stroke="#111" stroke-width="0.25" letter-spacing="0.2">point</text>
<text x="93.5" y="449.3" font-size="10.1" fill="#111" stroke="#111" stroke-width="0.25" letter-spacing="0.2">Actual</text>
<text x="93.5" y="462.8" font-size="10.1" fill="#111" stroke="#111" stroke-width="0.25" letter-spacing="0.2">nodule</text>
<text x="167.8" y="436.7" font-size="10.1" fill="#111" stroke="#111" stroke-width="0.25" letter-spacing="0.2">Palpation</text>
<text x="167.8" y="449.4" font-size="10.1" fill="#111" stroke="#111" stroke-width="0.25" letter-spacing="0.2">proximity <tspan font-style="italic">(l</tspan><tspan font-size="6.5" dy="2.5" font-style="italic">3</tspan><tspan dy="-2.5" font-style="italic">)</tspan></text>
<text x="106.5" y="414" font-size="10.1" fill="#111" stroke="#111" stroke-width="0.25" letter-spacing="0.2" font-style="italic">l<tspan font-size="6.5" dy="2.5">1</tspan></text>
<text x="142.5" y="415.5" font-size="10.1" fill="#111" stroke="#111" stroke-width="0.25" letter-spacing="0.2" font-style="italic">l<tspan font-size="6.5" dy="2.5">2</tspan></text>
<path d="M289.9 380.33C291.19 378.3 294.74 372.6 297.62 368.16C300.49 363.72 303.98 357.17 307.17 353.69C310.35 350.21 312.92 349.57 316.72 347.29C320.52 345 325.6 342.38 329.95 339.99C334.29 337.6 338.52 335.29 342.81 332.94C347.09 330.6 351.38 327.82 355.66 325.9C359.95 323.98 363.75 322.25 368.52 321.42C373.3 320.59 379.67 321.33 384.32 320.91C388.98 320.48 388.85 320.05 396.45 318.86C404.04 317.66 421.06 314.59 429.88 313.74C438.7 312.88 442.86 312.77 449.35 313.74C455.84 314.7 462.33 317.77 468.82 319.5C475.31 321.23 481.81 322.36 488.3 324.11C494.79 325.86 501.28 328.21 507.77 330C514.26 331.79 521.85 333.52 527.24 334.87C532.63 336.21 534.83 336.76 540.1 338.07C545.37 339.37 552.53 340.48 558.84 342.68C565.14 344.88 571.63 348.74 577.94 351.26C584.25 353.78 590.37 356.38 596.68 357.79C602.99 359.2 609.48 358.3 615.78 359.71C622.09 361.12 629.56 363.7 634.52 366.24C639.48 368.78 642.36 373.03 645.54 374.95C648.73 376.87 652.28 377.3 653.63 377.77L653.63 469.2C648.12 468.15 630.36 464.61 620.56 462.93C610.76 461.24 602.31 459.98 594.84 459.08C587.37 458.19 581.25 458.29 575.74 457.55C570.23 456.8 565.94 455.95 561.78 454.6C557.61 453.26 554.43 450.78 550.75 449.48C547.08 448.18 543.71 447.94 539.73 446.79C535.75 445.64 533.79 444.68 526.87 442.56C519.95 440.45 507.71 436.37 498.22 434.11C488.72 431.85 477.09 429.48 469.93 428.99C462.76 428.5 462.39 431.76 455.23 431.17C448.07 430.57 436.37 427.05 426.94 425.4C417.51 423.76 408.08 421.99 398.65 421.31C389.22 420.62 377.59 420.67 370.36 421.31C363.14 421.95 361.54 424.08 355.3 425.15C349.05 426.21 341.09 427.71 332.89 427.71C324.68 427.71 312.07 426.32 306.07 425.15C300.06 423.97 299.57 422.05 296.88 420.67C294.19 419.28 291.06 417.46 289.9 416.82Z" fill="#f2f2f2"/>
<path d="M289.9 379.56C291.19 377.55 294.74 371.94 297.62 367.52C300.49 363.1 303.98 356.53 307.17 353.05C310.35 349.57 312.92 348.93 316.72 346.65C320.52 344.36 325.6 341.76 329.95 339.35C334.29 336.94 338.52 334.59 342.81 332.18C347.09 329.76 351.38 327.29 355.66 324.88C359.95 322.46 363.75 319.97 368.52 317.71C373.3 315.44 379.3 312.99 384.32 311.3C389.34 309.62 393.87 308.55 398.65 307.59C403.43 306.63 407.77 305.86 412.98 305.54C418.18 305.22 423.82 304.98 429.88 305.67C435.94 306.35 442.86 307.84 449.35 309.64C455.84 311.43 462.33 314.33 468.82 316.42C475.31 318.52 481.81 320.1 488.3 322.19C494.79 324.28 501.28 326.71 507.77 328.97C514.26 331.24 521.85 333.95 527.24 335.76C532.63 337.58 534.83 338.07 540.1 339.86C545.37 341.65 552.53 343.68 558.84 346.52C565.14 349.36 571.63 352.96 577.94 356.89C584.25 360.82 590.37 366.15 596.68 370.08C602.99 374.01 609.48 377.13 615.78 380.45C622.09 383.78 628.21 387.05 634.52 390.06C640.83 393.07 650.44 397.1 653.63 398.51L653.63 493.4C649.65 492.66 636.66 490.44 629.74 488.92C622.83 487.41 618.11 486.4 612.11 484.31C606.11 482.22 598.52 478.66 593.74 476.37C588.96 474.09 586.45 472.53 583.45 470.61C580.45 468.69 580.27 467.3 575.74 464.85C571.21 462.39 562.27 459.34 556.26 455.88C550.26 452.42 544.63 446.66 539.73 444.1C534.83 441.54 533.79 442.67 526.87 440.51C519.95 438.36 506.85 433.68 498.22 431.17C489.58 428.65 482.23 427.54 475.07 425.4C467.91 423.27 461.84 420 455.23 418.36C448.62 416.72 440.11 415.78 435.39 415.54C430.68 415.31 430.68 416.95 426.94 416.95C423.2 416.95 417.69 416.01 412.98 415.54C408.26 415.07 403.43 414.37 398.65 414.13C393.87 413.9 389.04 413.2 384.32 414.13C379.61 415.07 375.2 417.85 370.36 419.77C365.52 421.69 359.03 424.34 355.3 425.66C351.56 426.98 351.68 427.28 347.95 427.71C344.21 428.14 337.91 428.22 332.89 428.22C327.86 428.22 322.29 428.14 317.82 427.71C313.35 427.28 309.56 426.73 306.07 425.66C302.58 424.59 299.57 422.67 296.88 421.31C294.19 419.94 291.06 418.1 289.9 417.46Z" fill="rgb(205,205,205)" fill-opacity="0.62"/>
<path d="M289.9 399.28C293.97 397.36 305.17 391.23 314.3 387.75C323.42 384.28 337.69 380.71 344.64 378.41C351.6 376.1 352.11 375.1 356.03 373.92C359.95 372.75 363.26 371.94 368.16 371.36C373.05 370.79 378.44 370.68 385.42 370.47C392.4 370.25 402.08 369.51 410.04 370.08C418 370.66 427.31 373.33 433.19 373.92C439.06 374.52 440.41 373.56 445.31 373.67C450.21 373.77 456.39 374.2 462.58 374.56C468.76 374.93 476.6 374.82 482.42 375.84C488.23 376.87 491.6 379 497.48 380.71C503.36 382.42 512.27 384.77 517.69 386.09C523.11 387.41 526.26 387.78 530 388.65C533.73 389.53 535.72 389.61 540.1 391.34C544.48 393.07 551.73 397.57 556.26 399.02C560.8 400.47 560.74 398.64 567.29 400.05C573.84 401.46 586.51 405.15 595.58 407.48C604.64 409.8 615.17 411.51 621.66 414.01C628.15 416.5 629.19 419.36 634.52 422.46C639.85 425.55 650.44 430.89 653.63 432.58" fill="none" stroke="#9a9a9a" stroke-width="1.1"/>
<polyline points="289.9,398.9 316.72,384.17 333.99,376.48 353.83,368.67 380.65,361.37 415.92,355.35 429.51,359.32 443.47,359.32 468.46,361.25 484.25,365.09 507.03,372.9 540.1,387.63 556.26,398.25 567.29,403.76 586.02,412.98 604.76,422.46 627.17,437.31 642.24,450.38 653.63,459.72" fill="none" stroke="#b8b8b8" stroke-width="1.3" stroke-dasharray="2.6 1.9"/>
<polyline points="289.9,398.9 300.92,393.77 314.3,385.58 335.82,373.03 353.83,364.06 368.16,353.43 376.97,350.62 389.83,342.55 396.81,344.34 404.16,342.55 411.88,342.42 419.59,345.75 422.53,344.73 439.06,350.49 458.54,355.35 468.46,356.38 487.56,364.06 495.64,368.03 501.15,367.14 516.95,377.77 522.1,380.33 530,387.11 540.1,390.44 548.55,393.39 554.43,400.05 558.1,407.48 570.96,424.25 575,425.15 586.02,437.31 593.37,446.66 601.09,447.56 613.95,457.93 623.5,460.75 642.24,461.64 653.63,464.46" fill="none" stroke="#2a2a2a" stroke-width="1.1" stroke-dasharray="2.6 1.9"/>
<path d="M289.9 399.28C291.58 398.49 295.94 396.46 300 394.54C304.07 392.62 309.67 389.55 314.3 387.75C318.92 385.96 322.68 385.34 327.74 383.78C332.8 382.23 338.83 380.8 344.64 378.41C350.46 376.02 357.69 371.68 362.65 369.44C367.61 367.2 370.48 366.22 374.4 364.96C378.32 363.7 382.42 362.57 386.16 361.89C389.89 361.2 392.83 361.12 396.81 360.86C400.79 360.61 405.75 360.35 410.04 360.35C414.33 360.35 418 360.71 422.53 360.86C427.06 361.01 432.39 360.46 437.23 361.25C442.06 362.04 446.35 363.98 451.56 365.6C456.76 367.22 460.8 368.46 468.46 370.98C476.11 373.5 489.28 378.19 497.48 380.71C505.69 383.23 512.27 384.77 517.69 386.09C523.11 387.41 526.26 387.78 530 388.65C533.73 389.53 535.72 389.61 540.1 391.34C544.48 393.07 550.14 395.72 556.26 399.02C562.39 402.33 570.29 407.13 576.84 411.19C583.39 415.24 590.31 420.56 595.58 423.35C600.84 426.15 603.17 425.47 608.44 427.96C613.7 430.46 622.15 436.14 627.17 438.34C632.19 440.54 634.15 439.62 638.56 441.16C642.97 442.69 651.12 446.49 653.63 447.56" fill="none" stroke="#111" stroke-width="1.25"/>
<rect x="289.9" y="263.8" width="363.7" height="230.5" fill="none" stroke="#a0a0a0" stroke-width="1"/>
<line x1="289.9" y1="494.3" x2="293.3" y2="494.3" stroke="#a0a0a0" stroke-width="1" />
<line x1="653.6" y1="494.3" x2="650.2" y2="494.3" stroke="#a0a0a0" stroke-width="1" />
<text x="286.5" y="497.9" font-size="9.5" text-anchor="end" fill="#262626" >0</text>
<line x1="289.9" y1="468.69" x2="293.3" y2="468.69" stroke="#a0a0a0" stroke-width="1" />
<line x1="653.6" y1="468.69" x2="650.2" y2="468.69" stroke="#a0a0a0" stroke-width="1" />
<text x="286.5" y="472.29" font-size="9.5" text-anchor="end" fill="#262626" >2</text>
<line x1="289.9" y1="443.08" x2="293.3" y2="443.08" stroke="#a0a0a0" stroke-width="1" />
<line x1="653.6" y1="443.08" x2="650.2" y2="443.08" stroke="#a0a0a0" stroke-width="1" />
<text x="286.5" y="446.68" font-size="9.5" text-anchor="end" fill="#262626" >4</text>
<line x1="289.9" y1="417.46" x2="293.3" y2="417.46" stroke="#a0a0a0" stroke-width="1" />
<line x1="653.6" y1="417.46" x2="650.2" y2="417.46" stroke="#a0a0a0" stroke-width="1" />
<text x="286.5" y="421.06" font-size="9.5" text-anchor="end" fill="#262626" >6</text>
<line x1="289.9" y1="391.85" x2="293.3" y2="391.85" stroke="#a0a0a0" stroke-width="1" />
<line x1="653.6" y1="391.85" x2="650.2" y2="391.85" stroke="#a0a0a0" stroke-width="1" />
<text x="286.5" y="395.45" font-size="9.5" text-anchor="end" fill="#262626" >8</text>
<line x1="289.9" y1="366.24" x2="293.3" y2="366.24" stroke="#a0a0a0" stroke-width="1" />
<line x1="653.6" y1="366.24" x2="650.2" y2="366.24" stroke="#a0a0a0" stroke-width="1" />
<text x="286.5" y="369.84" font-size="9.5" text-anchor="end" fill="#262626" >10</text>
<line x1="289.9" y1="340.63" x2="293.3" y2="340.63" stroke="#a0a0a0" stroke-width="1" />
<line x1="653.6" y1="340.63" x2="650.2" y2="340.63" stroke="#a0a0a0" stroke-width="1" />
<text x="286.5" y="344.23" font-size="9.5" text-anchor="end" fill="#262626" >12</text>
<line x1="289.9" y1="315.02" x2="293.3" y2="315.02" stroke="#a0a0a0" stroke-width="1" />
<line x1="653.6" y1="315.02" x2="650.2" y2="315.02" stroke="#a0a0a0" stroke-width="1" />
<text x="286.5" y="318.62" font-size="9.5" text-anchor="end" fill="#262626" >14</text>
<line x1="289.9" y1="289.4" x2="293.3" y2="289.4" stroke="#a0a0a0" stroke-width="1" />
<line x1="653.6" y1="289.4" x2="650.2" y2="289.4" stroke="#a0a0a0" stroke-width="1" />
<text x="286.5" y="293" font-size="9.5" text-anchor="end" fill="#262626" >16</text>
<line x1="289.9" y1="263.79" x2="293.3" y2="263.79" stroke="#a0a0a0" stroke-width="1" />
<line x1="653.6" y1="263.79" x2="650.2" y2="263.79" stroke="#a0a0a0" stroke-width="1" />
<text x="286.5" y="267.39" font-size="9.5" text-anchor="end" fill="#262626" >18</text>
<line x1="322.97" y1="494.3" x2="322.97" y2="490.9" stroke="#a0a0a0" stroke-width="1" />
<line x1="322.97" y1="263.8" x2="322.97" y2="267.2" stroke="#a0a0a0" stroke-width="1" />
<text x="322.97" y="507.7" font-size="9.5" text-anchor="middle" fill="#262626" >10</text>
<line x1="359.71" y1="494.3" x2="359.71" y2="490.9" stroke="#a0a0a0" stroke-width="1" />
<line x1="359.71" y1="263.8" x2="359.71" y2="267.2" stroke="#a0a0a0" stroke-width="1" />
<text x="359.71" y="507.7" font-size="9.5" text-anchor="middle" fill="#262626" >20</text>
<line x1="396.45" y1="494.3" x2="396.45" y2="490.9" stroke="#a0a0a0" stroke-width="1" />
<line x1="396.45" y1="263.8" x2="396.45" y2="267.2" stroke="#a0a0a0" stroke-width="1" />
<text x="396.45" y="507.7" font-size="9.5" text-anchor="middle" fill="#262626" >30</text>
<line x1="433.19" y1="494.3" x2="433.19" y2="490.9" stroke="#a0a0a0" stroke-width="1" />
<line x1="433.19" y1="263.8" x2="433.19" y2="267.2" stroke="#a0a0a0" stroke-width="1" />
<text x="433.19" y="507.7" font-size="9.5" text-anchor="middle" fill="#262626" >40</text>
<line x1="469.93" y1="494.3" x2="469.93" y2="490.9" stroke="#a0a0a0" stroke-width="1" />
<line x1="469.93" y1="263.8" x2="469.93" y2="267.2" stroke="#a0a0a0" stroke-width="1" />
<text x="469.93" y="507.7" font-size="9.5" text-anchor="middle" fill="#262626" >50</text>
<line x1="506.67" y1="494.3" x2="506.67" y2="490.9" stroke="#a0a0a0" stroke-width="1" />
<line x1="506.67" y1="263.8" x2="506.67" y2="267.2" stroke="#a0a0a0" stroke-width="1" />
<text x="506.67" y="507.7" font-size="9.5" text-anchor="middle" fill="#262626" >60</text>
<line x1="543.41" y1="494.3" x2="543.41" y2="490.9" stroke="#a0a0a0" stroke-width="1" />
<line x1="543.41" y1="263.8" x2="543.41" y2="267.2" stroke="#a0a0a0" stroke-width="1" />
<text x="543.41" y="507.7" font-size="9.5" text-anchor="middle" fill="#262626" >70</text>
<line x1="580.15" y1="494.3" x2="580.15" y2="490.9" stroke="#a0a0a0" stroke-width="1" />
<line x1="580.15" y1="263.8" x2="580.15" y2="267.2" stroke="#a0a0a0" stroke-width="1" />
<text x="580.15" y="507.7" font-size="9.5" text-anchor="middle" fill="#262626" >80</text>
<line x1="616.89" y1="494.3" x2="616.89" y2="490.9" stroke="#a0a0a0" stroke-width="1" />
<line x1="616.89" y1="263.8" x2="616.89" y2="267.2" stroke="#a0a0a0" stroke-width="1" />
<text x="616.89" y="507.7" font-size="9.5" text-anchor="middle" fill="#262626" >90</text>
<line x1="653.63" y1="494.3" x2="653.63" y2="490.9" stroke="#a0a0a0" stroke-width="1" />
<line x1="653.63" y1="263.8" x2="653.63" y2="267.2" stroke="#a0a0a0" stroke-width="1" />
<text x="653.63" y="507.7" font-size="9.5" text-anchor="middle" fill="#262626" >100</text>
<text x="471.7" y="519.8" font-size="9.45" text-anchor="middle" fill="#262626" >Trial Completion Percentage (%)</text>
<text transform="translate(274.2 379) rotate(-90)" font-size="9.4" text-anchor="middle" fill="#262626">Palpation Proximity (cm)</text>
<rect x="295.4" y="268.8" width="241.9" height="34" fill="#fff" stroke="#a0a0a0" stroke-width="0.9"/>
<rect x="296.8" y="270.7" width="18.5" height="10.7" fill="#efefef"/>
<line x1="296.8" y1="285.7" x2="315.3" y2="285.7" stroke="#aaa" stroke-width="1.1" />
<rect x="296.8" y="292.7" width="18.5" height="9.1" fill="#e0e0e0"/>
<text x="317.2" y="278.5" font-size="8.65" text-anchor="start" fill="#262626" >Std-Visual Tactile Map</text>
<text x="317.2" y="289.5" font-size="8.65" text-anchor="start" fill="#262626" >Mean-Visual Tactile Map</text>
<text x="317.2" y="300.3" font-size="8.65" text-anchor="start" fill="#262626" >Std-Face</text>
<line x1="415.7" y1="274.9" x2="434" y2="274.9" stroke="#222" stroke-width="1.5" />
<line x1="415.7" y1="286.3" x2="434" y2="286.3" stroke="#b5b5b5" stroke-width="1" stroke-dasharray="3 2"/>
<line x1="415.7" y1="297.3" x2="434" y2="297.3" stroke="#333" stroke-width="1" stroke-dasharray="3 2"/>
<text x="436" y="278.5" font-size="8.5" text-anchor="start" fill="#262626" >Mean-Face</text>
<text x="436" y="289.5" font-size="8.55" text-anchor="start" fill="#262626" >Median-Visual Tactile Map</text>
<text x="436" y="300.3" font-size="8.5" text-anchor="start" fill="#262626" >Median-Face</text>
</svg></body></html>
